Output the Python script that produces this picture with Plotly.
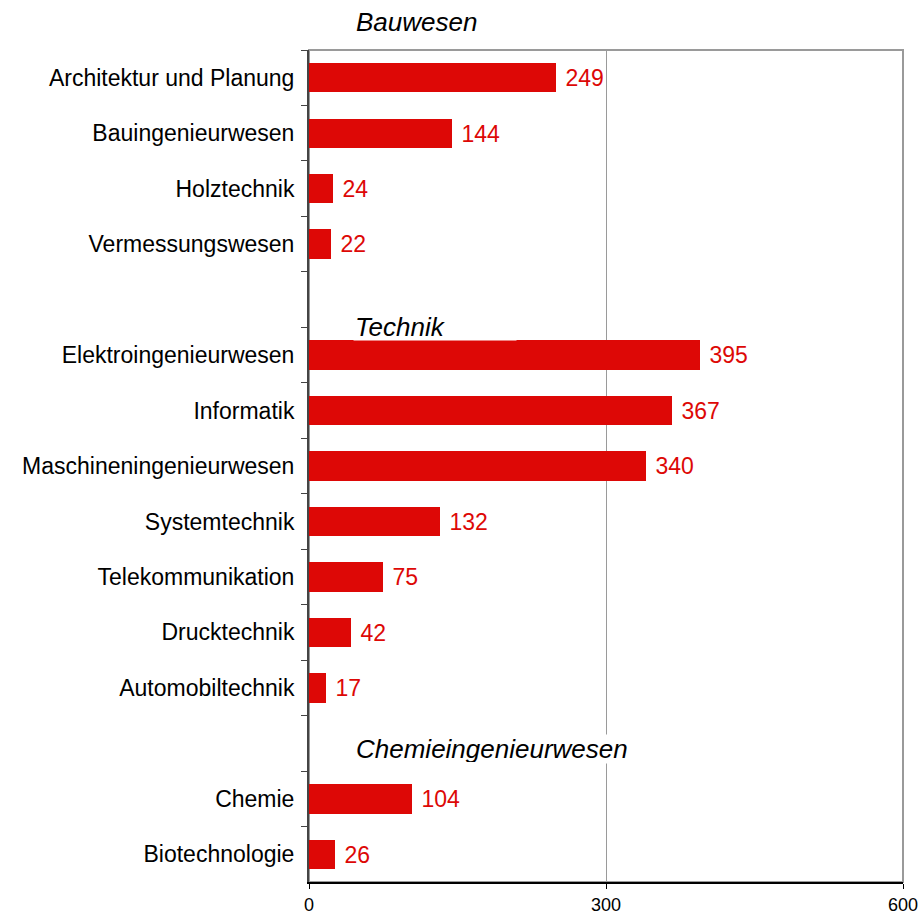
import plotly.graph_objects as go

# Data, grouped by field
groups = ["Bauwesen", "Technik", "Chemieingenieurwesen"]
bau_labels = ["Architektur und Planung", "Bauingenieurwesen", "Holztechnik", "Vermessungswesen"]
bau_values = [249, 144, 24, 22]
tech_labels = ["Elektroingenieurwesen", "Informatik", "Maschineningenieurwesen",
               "Systemtechnik", "Telekommunikation", "Drucktechnik", "Automobiltechnik"]
tech_values = [395, 367, 340, 132, 75, 42, 17]
chem_labels = ["Chemie", "Biotechnologie"]
chem_values = [104, 26]
x_ticks = [0, 300, 600]

RED = "#DD0806"
FONT = "Liberation Sans, Arial, sans-serif"

labels = bau_labels + tech_labels + chem_labels
values = bau_values + tech_values + chem_values
# blank slots separate the groups
order = bau_labels + [" "] + tech_labels + ["  "] + chem_labels

fig = go.Figure(go.Bar(
    x=values, y=labels, orientation="h",
    marker=dict(color=RED, line=dict(width=0)),
    width=0.53,
    text=values, texttemplate="\u00a0%{x}", textposition="outside", cliponaxis=False,
    textfont=dict(color=RED, size=23, family=FONT),
    hoverinfo="x+y",
))

head_font = dict(size=26, family=FONT, color="black", style="italic")

# first header sits above the plot area
fig.add_annotation(text=groups[0], x=45, y=1, xref="x", yref="paper",
                   xanchor="left", yanchor="middle", yshift=28,
                   showarrow=False, font=head_font)
# the other two sit on white boxes inside the plot, placed by category index
fig.add_annotation(text=groups[1], x=44, y=4.5, xref="x", yref="y",
                   xanchor="left", yanchor="middle", showarrow=False,
                   font=head_font, bgcolor="white", width=160, height=24,
                   align="left", borderpad=1)
fig.add_annotation(text=groups[2], x=45, y=12.1, xref="x", yref="y",
                   xanchor="left", yanchor="middle", showarrow=False,
                   font=head_font, bgcolor="white", height=26, borderpad=1)

# grey frame on top and right
fig.add_shape(type="rect", xref="paper", yref="paper", x0=0, x1=1, y0=0, y1=1,
              line=dict(color="#9a9a9a", width=2), layer="below")

fig.update_xaxes(range=[0, 600], tickvals=x_ticks, showgrid=True,
                 gridcolor="#9a9a9a", gridwidth=1, zeroline=False,
                 showline=True, linecolor="black", linewidth=1.5,
                 ticks="outside", ticklen=5, tickcolor="black",
                 tickfont=dict(size=18, family=FONT, color="black"),
                 ticklabelstandoff=1, automargin=False)
fig.update_yaxes(type="category", categoryorder="array", categoryarray=order,
                 range=[len(order) - 0.5, -0.5], showgrid=False, zeroline=False,
                 showline=True, linecolor="#444444", linewidth=2,
                 ticks="outside", ticklen=6, tickcolor="#444444",
                 tickson="boundaries",
                 tickfont=dict(size=23, family=FONT, color="black"),
                 ticklabelstandoff=8, automargin=False)

fig.update_layout(width=919, height=919, showlegend=False,
                  plot_bgcolor="white", paper_bgcolor="white",
                  margin=dict(l=309, r=16, t=50, b=37, autoexpand=False),
                  font=dict(family=FONT), bargap=0)

# drop the default page margin so the figure fills the window
fig.write_html("out.html", config={"displayModeBar": False},
               post_script="document.body.style.margin='0';")
